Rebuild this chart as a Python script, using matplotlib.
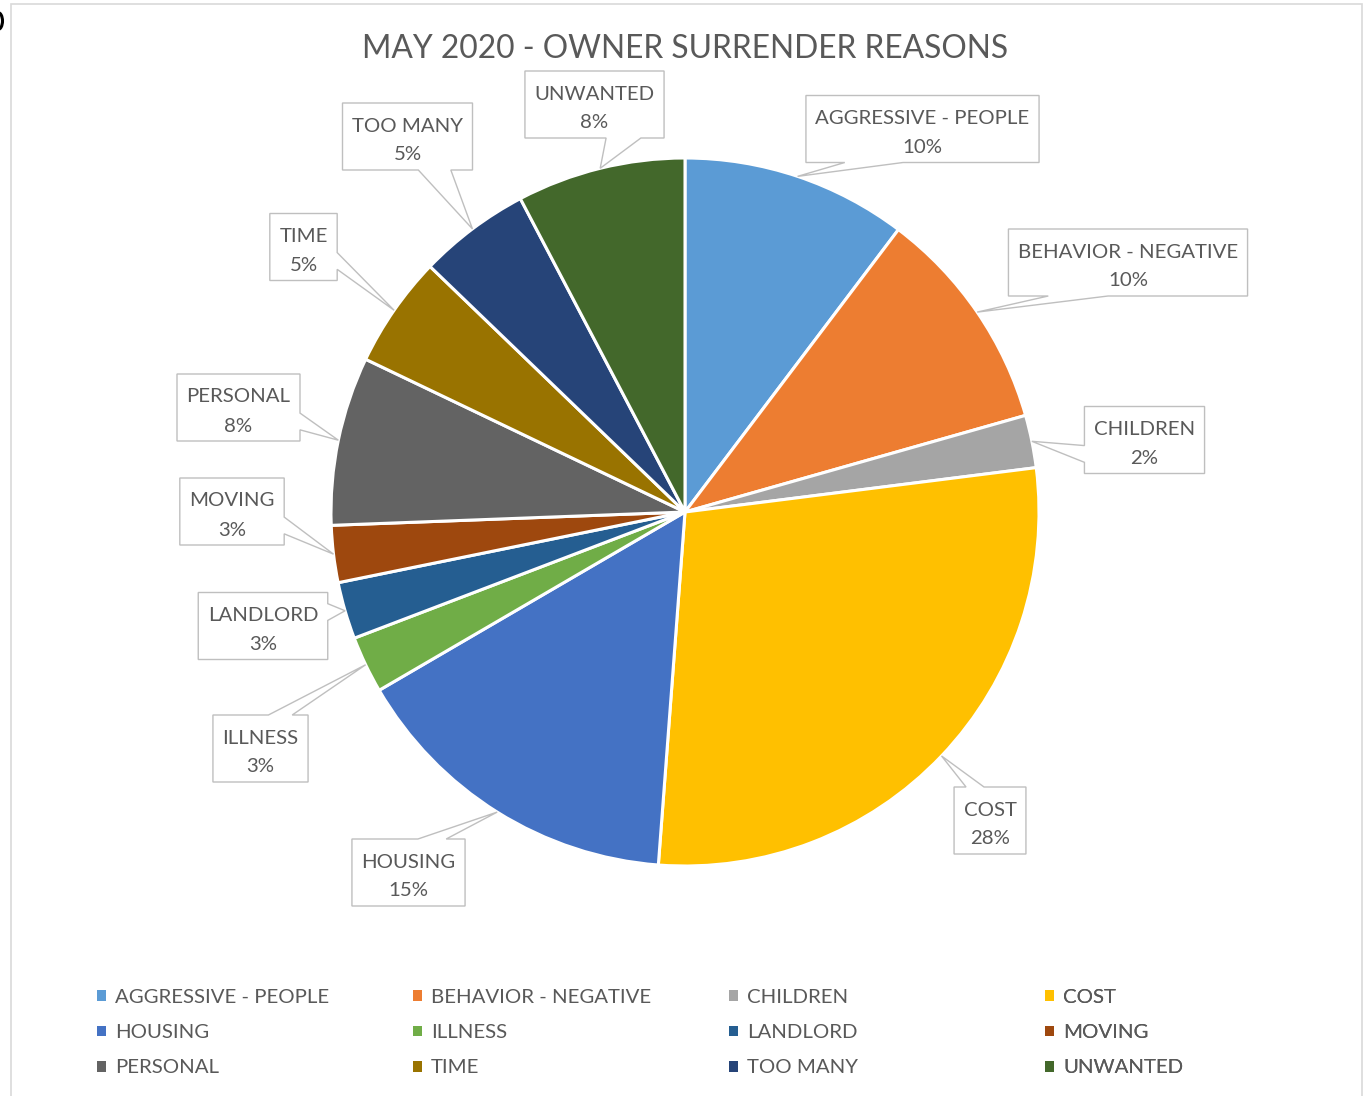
import matplotlib
matplotlib.use('Agg')
import matplotlib.pyplot as plt
from matplotlib.patches import Polygon, Rectangle, Patch, Ellipse
import numpy as np

plt.rcParams['font.family'] = ['Lato', 'DejaVu Sans']

# ---------------- data ----------------
title = 'MAY 2020 - OWNER SURRENDER REASONS'
categories = ['AGGRESSIVE - PEOPLE', 'BEHAVIOR - NEGATIVE', 'CHILDREN', 'COST',
              'HOUSING', 'ILLNESS', 'LANDLORD', 'MOVING',
              'PERSONAL', 'TIME', 'TOO MANY', 'UNWANTED']
shares = [10.3, 10.3, 2.4, 28.2, 15.4, 2.6, 2.6, 2.6, 7.7, 5.1, 5.1, 7.7]
colors = ['#5B9BD5', '#ED7D31', '#A5A5A5', '#FFC000',
          '#4472C4', '#70AD47', '#255E91', '#9E480E',
          '#636363', '#997300', '#264478', '#43682B']

# ---------------- layout (pixels from top-left) ----------------
W, H = 1368, 1096
label_centres = [(922.5, 129), (1128, 262.5), (1144.5, 440), (990, 820.5),
                 (408.5, 872.5), (260.5, 748.5), (263, 626), (232, 511.5),
                 (238.5, 407.5), (303.5, 247), (407.5, 136.5), (594.5, 104.5)]
TXT = '#595959'
BOXC = '#BFBFBF'

fig = plt.figure(figsize=(W / 100, H / 100), dpi=100)
ax = fig.add_axes([0, 0, 1, 1])
renderer = fig.canvas.get_renderer()


def ypx(y):
    return H - y


def width_px(s, size):
    t = ax.text(0, 0, s, fontsize=size)
    w = t.get_window_extent(renderer).width
    t.remove()
    return w


label_fs = 12 * 214 / width_px('AGGRESSIVE - PEOPLE', 12)
title_fs = 20 * 645 / width_px(title, 20)

cx, cy, R = 685, ypx(512), 354
wedges, _ = ax.pie(shares, colors=colors, startangle=90, counterclock=False,
                   center=(cx, cy), radius=R,
                   wedgeprops=dict(edgecolor='white', linewidth=2.2))
ax.set_xlim(0, W)
ax.set_ylim(0, H)
ax.set_aspect('equal')
ax.axis('off')

# chart border
ax.add_patch(Rectangle((11, -20), 1351, H - 4 + 20, fill=False,
                       edgecolor='#D9D9D9', linewidth=1.2, zorder=0))
# small cut-off dark mark at the very left edge of the screenshot
ax.add_patch(Ellipse((-2, ypx(21)), 9, 17, fill=False, edgecolor='black',
                     linewidth=2.2))

# title
ax.text(685.5, ypx(58), title, ha='center', va='baseline',
        fontsize=title_fs, color=TXT)

# callout labels
total = sum(shares)
for wdg, name, val, (bx, by) in zip(wedges, categories, shares, label_centres):
    mid = np.deg2rad((wdg.theta1 + wdg.theta2) / 2)
    tx, ty = cx + R * np.cos(mid), cy + R * np.sin(mid)
    pct = f'{round(val / total * 100):.0f}%'
    tw = max(width_px(name, label_fs), width_px(pct, label_fs))
    w, h = tw + 19, 67
    bcy = ypx(by)
    x0, x1 = bx - w / 2, bx + w / 2
    yb, yt = bcy - h / 2, bcy + h / 2
    dx, dy = (tx - bx) / w, (ty - bcy) / h
    if abs(dx) > abs(dy):
        if ty > bcy:
            ya, yb2 = yt - h * 2 / 12, yt - h * 5 / 12
        else:
            ya, yb2 = yt - h * 7 / 12, yt - h * 10 / 12
        if dx > 0:  # right edge
            verts = [(x0, yt), (x1, yt), (x1, ya), (tx, ty), (x1, yb2),
                     (x1, yb), (x0, yb)]
        else:  # left edge
            verts = [(x0, yt), (x1, yt), (x1, yb), (x0, yb), (x0, yb2),
                     (tx, ty), (x0, ya)]
    else:
        if tx < bx:
            xa, xb2 = x0 + w * 2 / 12, x0 + w * 5 / 12
        else:
            xa, xb2 = x0 + w * 7 / 12, x0 + w * 10 / 12
        if dy > 0:  # top edge
            verts = [(x0, yt), (xa, yt), (tx, ty), (xb2, yt), (x1, yt),
                     (x1, yb), (x0, yb)]
        else:  # bottom edge
            verts = [(x0, yt), (x1, yt), (x1, yb), (xb2, yb), (tx, ty),
                     (xa, yb), (x0, yb)]
    ax.add_patch(Polygon(verts, closed=True, facecolor='white',
                         edgecolor=BOXC, linewidth=1.0, zorder=5))
    ax.text(bx, bcy + 5, name, ha='center', va='baseline', fontsize=label_fs,
            color=TXT, zorder=6)
    ax.text(bx, bcy - 24, pct, ha='center', va='baseline', fontsize=label_fs,
            color=TXT, zorder=6)

# legend: 4 columns, 3 rows, row-major order
fs_px = label_fs * 100 / 72
handles = [Patch(facecolor=c, edgecolor='none') for c in colors]
col_x = [97, 413, 729, 1045]
for c in range(4):
    leg = ax.legend(handles[c::4], categories[c::4], loc='upper left',
                    bbox_to_anchor=(col_x[c], ypx(989)),
                    bbox_transform=ax.transData, frameon=False,
                    fontsize=label_fs, labelcolor=TXT,
                    handlelength=9 / fs_px, handleheight=9 / fs_px,
                    handletextpad=9 / fs_px, borderpad=0, borderaxespad=0,
                    labelspacing=0.5 + 8 / fs_px)
    ax.add_artist(leg)

fig.savefig('out.png', dpi=100)
